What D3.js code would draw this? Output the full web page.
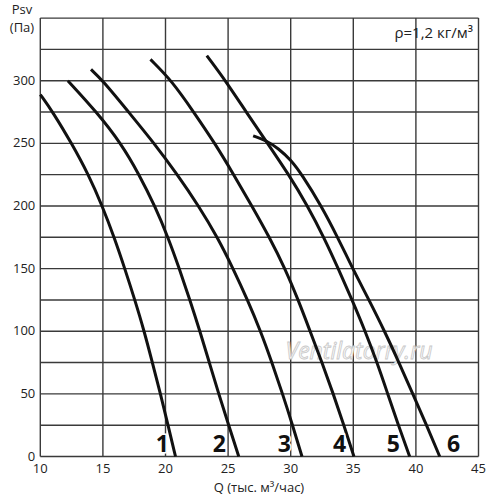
<!DOCTYPE html>
<html>
<head>
<meta charset="utf-8">
<script src="https://cdn.jsdelivr.net/npm/d3@7"></script>
<style>
  body { margin: 0; background: #fff; }
  text { font-family: "Open Sans", "Liberation Sans", sans-serif; }
</style>
</head>
<body>
<script>
// fan curves: Q (thousand m3/h) vs Psv (Pa)
var curveNames = ["1", "2", "3", "4", "5", "6"];

var q1 = [10, 11.0, 12.5, 13.85, 14.95, 15.9, 16.75, 17.55, 18.3, 18.95, 19.6, 20.2, 20.8];
var p1 = [289, 275, 250, 225, 200, 175, 150, 125, 100, 75, 50, 25, 0];

var q2 = [12.2, 14.5, 16.45, 17.9, 19.15, 20.2, 21.1, 21.95, 22.75, 23.5, 24.25, 25.05, 25.85];
var p2 = [300, 275, 250, 225, 200, 175, 150, 125, 100, 75, 50, 25, 0];

var q3 = [14.05, 15.0, 17.05, 19.1, 20.95, 22.65, 24.15, 25.4, 26.55, 27.6, 28.5, 29.35, 30.15, 30.9];
var p3 = [309, 300, 275, 250, 225, 200, 175, 150, 125, 100, 75, 50, 25, 0];

var q4 = [18.8, 20.5, 22.25, 23.95, 25.45, 26.9, 28.3, 29.55, 30.6, 31.55, 32.5, 33.4, 34.25, 35.05];
var p4 = [317, 300, 275, 250, 225, 200, 175, 150, 125, 100, 75, 50, 25, 0];

var q5 = [23.3, 24.8, 26.45, 28.15, 29.85, 31.35, 32.65, 33.8, 34.9, 35.95, 36.9, 37.75, 38.6, 39.5];
var p5 = [320, 300, 275, 250, 225, 200, 175, 150, 125, 100, 75, 50, 25, 0];

var q6 = [27.0, 28.1, 29.0, 30.0, 30.9, 32.45, 33.75, 34.95, 36.25, 37.5, 38.65, 39.75, 40.85, 41.9];
var p6 = [256, 252, 246, 237, 225, 200, 175, 150, 125, 100, 75, 50, 25, 0];

// where the curve numbers sit (Q value of label centre)
var labelQ = [19.75, 24.3, 29.5, 33.9, 38.2, 43.0];
var labelP = 4;

var xTicks = [10, 15, 20, 25, 30, 35, 40, 45];
var yTicks = [0, 50, 100, 150, 200, 250, 300];
var yGrid = d3.range(0, 351, 25);

var w = 500, h = 500;
var padL = 40.3, padR = 478.5, padT = 18.1, padB = 456.5;

var svg = d3.select("body").append("svg")
    .attr("width", w)
    .attr("height", h);

var x = d3.scaleLinear().domain([10, 45]).range([padL, padR]);
var y = d3.scaleLinear().domain([0, 350]).range([padB, padT]);

// grid
svg.append("g").selectAll("line")
    .data(xTicks)
    .enter().append("line")
    .attr("x1", function(d) { return x(d); })
    .attr("x2", function(d) { return x(d); })
    .attr("y1", y(0))
    .attr("y2", y(350))
    .attr("stroke", "#3a3a3a")
    .attr("stroke-width", 1.4);

svg.append("g").selectAll("line")
    .data(yGrid)
    .enter().append("line")
    .attr("x1", x(10))
    .attr("x2", x(45))
    .attr("y1", function(d) { return y(d); })
    .attr("y2", function(d) { return y(d); })
    .attr("stroke", "#3a3a3a")
    .attr("stroke-width", 1.4);

// tick labels
svg.append("g").selectAll("text")
    .data(xTicks)
    .enter().append("text")
    .attr("x", function(d) { return x(d); })
    .attr("y", padB + 16)
    .attr("text-anchor", "middle")
    .attr("font-size", 13)
    .attr("fill", "#222")
    .text(function(d) { return d; });

svg.append("g").selectAll("text")
    .data(yTicks)
    .enter().append("text")
    .attr("x", padL - 5)
    .attr("y", function(d) { return y(d) + 4; })
    .attr("text-anchor", "end")
    .attr("font-size", 13)
    .attr("fill", "#222")
    .text(function(d) { return d; });

// axis titles
svg.append("text")
    .attr("x", 22).attr("y", 14)
    .attr("text-anchor", "middle")
    .attr("font-size", 13)
    .attr("fill", "#222")
    .text("Psv");
svg.append("text")
    .attr("x", 22).attr("y", 32)
    .attr("text-anchor", "middle")
    .attr("font-size", 13)
    .attr("fill", "#222")
    .text("(Па)");
svg.append("text")
    .attr("x", 259).attr("y", 492)
    .attr("text-anchor", "middle")
    .attr("font-size", 13)
    .attr("fill", "#222")
    .text("Q (тыс. м³/час)");

svg.append("text")
    .attr("x", 473).attr("y", 38)
    .attr("text-anchor", "end")
    .attr("font-size", 15)
    .attr("fill", "#222")
    .text("ρ=1,2 кг/м³");

// watermark
svg.append("text")
    .attr("x", 359).attr("y", 359)
    .attr("text-anchor", "middle")
    .attr("font-size", 23)
    .attr("font-style", "italic")
    .attr("fill", "#fafafa")
    .attr("stroke", "#c8c8c8")
    .attr("stroke-width", 0.8)
    .text("Ventilatorry.ru");

// curves
var allQ = [q1, q2, q3, q4, q5, q6];
var allP = [p1, p2, p3, p4, p5, p6];

var line = d3.line()
    .x(function(d) { return x(d[0]); })
    .y(function(d) { return y(d[1]); })
    .curve(d3.curveBasis);

allQ.forEach(function(qs, i) {
  var pts = qs.map(function(q, j) { return [q, allP[i][j]]; });
  svg.append("path")
      .datum(pts)
      .attr("d", line)
      .attr("fill", "none")
      .attr("stroke", "#111")
      .attr("stroke-width", 3);
});

// curve numbers
svg.append("g").selectAll("text")
    .data(curveNames)
    .enter().append("text")
    .attr("x", function(d, i) { return x(labelQ[i]); })
    .attr("y", y(labelP) + 1)
    .attr("text-anchor", "middle")
    .attr("font-family", "'Liberation Sans Narrow', 'Liberation Sans', sans-serif")
    .attr("font-weight", "bold")
    .attr("font-size", 23)
    .attr("fill", "#111")
    .attr("stroke", "#fff")
    .attr("stroke-width", 3)
    .attr("paint-order", "stroke")
    .text(function(d) { return d; });
</script>
</body>
</html>
